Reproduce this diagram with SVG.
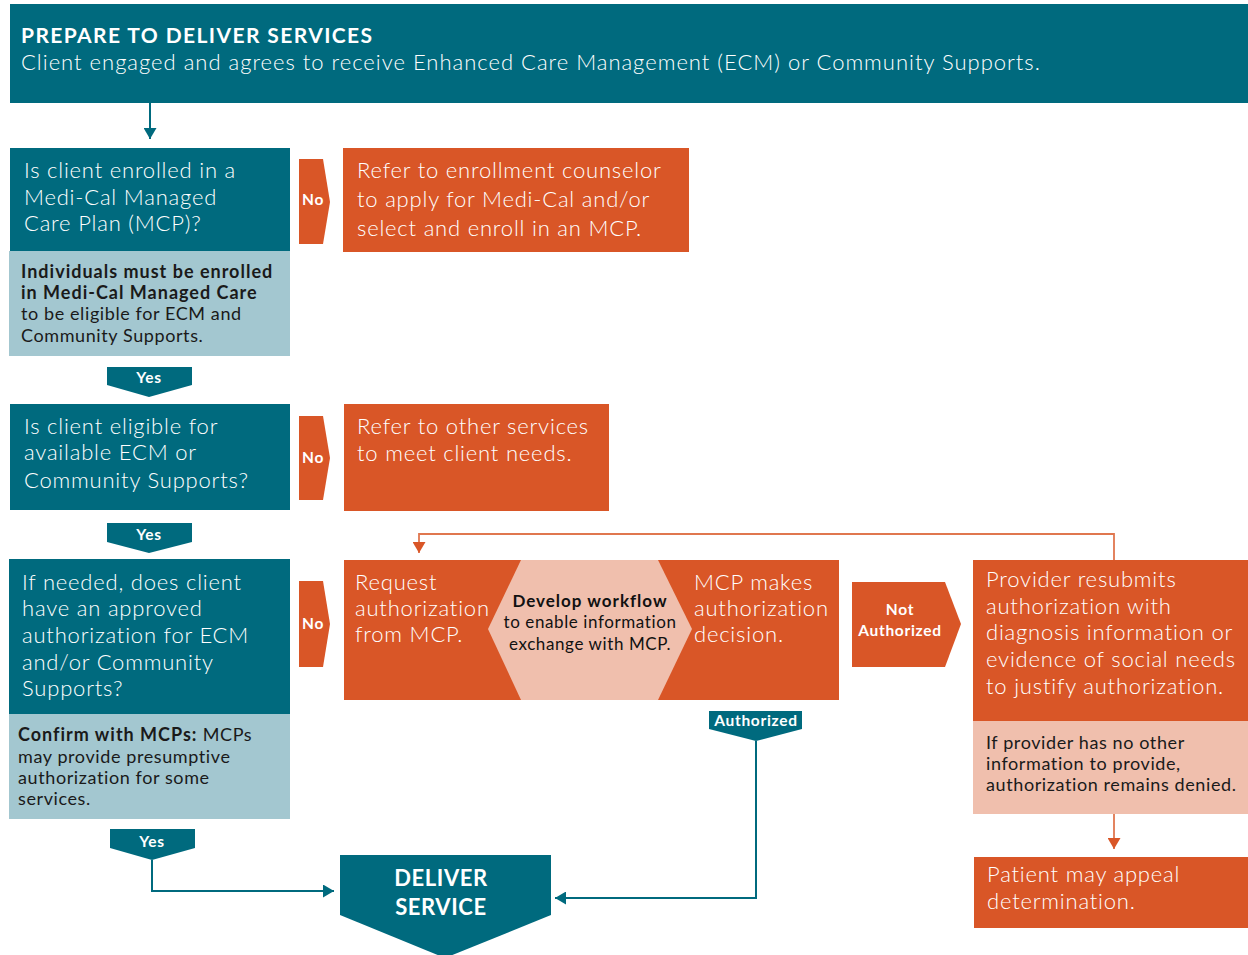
<svg xmlns="http://www.w3.org/2000/svg" width="1248" height="955" viewBox="0 0 1248 955">
  <defs>
    <style>
      .teal { fill: #006a7e; }
      .orange { fill: #d95627; }
      .blue { fill: #a3c7d0; }
      .peach { fill: #f0bfad; }
      text { font-family: Lato, "Liberation Sans", sans-serif; }
      .lt { fill: #ffffff; font-weight: 300; font-size: 22px; letter-spacing: 0.8px; }
      .sub { letter-spacing: 1px; }
      .note { fill: #1a1a1a; font-weight: 400; font-size: 18px; letter-spacing: 0.6px; }
      .b { font-weight: 700; letter-spacing: 1px; }
      .tag { fill: #ffffff; font-weight: 700; font-size: 15.5px; letter-spacing: 0.7px; text-anchor: middle; }
      .tline { fill: none; stroke: #006a7e; stroke-width: 2; }
      .oline { fill: none; stroke: #e0774f; stroke-width: 1.8; }
    </style>
    <marker id="ah-teal" viewBox="0 0 11 13" refX="11" refY="6.5" markerWidth="11" markerHeight="13" orient="auto" markerUnits="userSpaceOnUse">
      <path d="M0,0 L11,6.5 L0,13 z" fill="#006a7e"/>
    </marker>
    <marker id="ah-orange" viewBox="0 0 11 13" refX="11" refY="6.5" markerWidth="11" markerHeight="13" orient="auto" markerUnits="userSpaceOnUse">
      <path d="M0,0 L11,6.5 L0,13 z" fill="#d95627"/>
    </marker>
  </defs>

  <rect width="1248" height="955" fill="#ffffff"/>

  <!-- Header -->
  <g id="header">
    <rect class="teal" x="10" y="4" width="1238" height="99"/>
    <text x="21" y="43" fill="#ffffff" font-size="21" font-weight="700" letter-spacing="1.4">PREPARE TO DELIVER SERVICES</text>
    <text x="21" y="70" class="lt sub">Client engaged and agrees to receive Enhanced Care Management (ECM) or Community Supports.</text>
  </g>

  <!-- Question 1 -->
  <g id="q1">
    <rect class="teal" x="10" y="148" width="280" height="103"/>
    <text class="lt"><tspan x="24" y="178">Is client enrolled in a</tspan><tspan x="24" y="205">Medi-Cal Managed</tspan><tspan x="24" y="231">Care Plan (MCP)?</tspan></text>
    <rect class="blue" x="9" y="251" width="281" height="105"/>
    <text class="note"><tspan x="21" y="278" class="b">Individuals must be enrolled</tspan><tspan x="21" y="299" class="b">in Medi-Cal Managed Care</tspan><tspan x="21" y="320">to be eligible for ECM and</tspan><tspan x="21" y="342">Community Supports.</tspan></text>
  </g>

  <g id="no1">
    <polygon class="orange" points="299,159 323,159 330,202 323,244 299,244"/>
    <text class="tag" x="313" y="205">No</text>
  </g>

  <g id="refer-enroll">
    <rect class="orange" x="343" y="148" width="346" height="104"/>
    <text class="lt"><tspan x="357" y="178">Refer to enrollment counselor</tspan><tspan x="357" y="207">to apply for Medi-Cal and/or</tspan><tspan x="357" y="236">select and enroll in an MCP.</tspan></text>
  </g>

  <g id="yes1">
    <polygon class="teal" points="107,367 192,367 192,385 149,397 107,385"/>
    <text class="tag" x="149" y="383">Yes</text>
  </g>

  <!-- Question 2 -->
  <g id="q2">
    <rect class="teal" x="10" y="404" width="280" height="106"/>
    <text class="lt"><tspan x="24" y="434">Is client eligible for</tspan><tspan x="24" y="460">available ECM or</tspan><tspan x="24" y="488">Community Supports?</tspan></text>
  </g>

  <g id="no2">
    <polygon class="orange" points="299,416 323,416 330,458 323,500 299,500"/>
    <text class="tag" x="313" y="463">No</text>
  </g>

  <g id="refer-other">
    <rect class="orange" x="344" y="404" width="265" height="107"/>
    <text class="lt"><tspan x="357" y="434">Refer to other services</tspan><tspan x="357" y="461">to meet client needs.</tspan></text>
  </g>

  <g id="yes2">
    <polygon class="teal" points="107,523 192,523 192,542 149,553 107,542"/>
    <text class="tag" x="149" y="540">Yes</text>
  </g>

  <!-- Question 3 -->
  <g id="q3">
    <rect class="teal" x="9" y="559" width="281" height="155"/>
    <text class="lt"><tspan x="22" y="590">If needed, does client</tspan><tspan x="22" y="616">have an approved</tspan><tspan x="22" y="643">authorization for ECM</tspan><tspan x="22" y="670">and/or Community</tspan><tspan x="22" y="696">Supports?</tspan></text>
    <rect class="blue" x="9" y="714" width="281" height="105"/>
    <text class="note"><tspan x="18" y="741"><tspan class="b">Confirm with MCPs:</tspan> MCPs</tspan><tspan x="18" y="763">may provide presumptive</tspan><tspan x="18" y="784">authorization for some</tspan><tspan x="18" y="805">services.</tspan></text>
  </g>

  <g id="no3">
    <polygon class="orange" points="299,581 323,581 330,624 323,667 299,667"/>
    <text class="tag" x="313" y="629">No</text>
  </g>

  <g id="yes3">
    <polygon class="teal" points="110,829 195,829 195,848 152,860 110,848"/>
    <text class="tag" x="152" y="847">Yes</text>
  </g>

  <!-- Authorization request band -->
  <g id="authorization">
    <rect class="orange" x="344" y="560" width="495" height="140"/>
    <polygon class="peach" points="521,560 658,560 692,629 658,700 521,700 488,629"/>
    <text class="lt"><tspan x="355" y="590">Request</tspan><tspan x="355" y="616">authorization</tspan><tspan x="355" y="642">from MCP.</tspan></text>
    <text fill="#111111" font-size="17" text-anchor="middle" letter-spacing="0.6"><tspan x="590" y="607" font-weight="700" letter-spacing="1">Develop workflow</tspan><tspan x="590" y="628">to enable information</tspan><tspan x="590" y="650">exchange with MCP.</tspan></text>
    <text class="lt"><tspan x="694" y="590">MCP makes</tspan><tspan x="694" y="616">authorization</tspan><tspan x="694" y="642">decision.</tspan></text>
  </g>

  <g id="not-authorized">
    <polygon class="orange" points="852,582 945,582 961,624 945,667 852,667"/>
    <text class="tag"><tspan x="900" y="615">Not</tspan><tspan x="900" y="636">Authorized</tspan></text>
  </g>

  <g id="authorized">
    <polygon class="teal" points="709,711 802,711 802,729 756,741 709,729"/>
    <text class="tag" x="756" y="726">Authorized</text>
  </g>

  <g id="resubmit">
    <rect class="orange" x="973" y="560" width="275" height="161"/>
    <text class="lt"><tspan x="986" y="587">Provider resubmits</tspan><tspan x="986" y="614">authorization with</tspan><tspan x="986" y="640">diagnosis information or</tspan><tspan x="986" y="667">evidence of social needs</tspan><tspan x="986" y="694">to justify authorization.</tspan></text>
    <rect class="peach" x="973" y="721" width="275" height="93"/>
    <text class="note"><tspan x="986" y="749">If provider has no other</tspan><tspan x="986" y="770">information to provide,</tspan><tspan x="986" y="791">authorization remains denied.</tspan></text>
  </g>

  <g id="appeal">
    <rect class="orange" x="974" y="857" width="274" height="71"/>
    <text class="lt"><tspan x="987" y="882">Patient may appeal</tspan><tspan x="987" y="909">determination.</tspan></text>
  </g>

  <g id="deliver">
    <polygon class="teal" points="340,855 551,855 551,915 445,958 340,915"/>
    <text fill="#ffffff" font-size="22" font-weight="700" text-anchor="middle" letter-spacing="0.6"><tspan x="441" y="886">DELIVER</tspan><tspan x="441" y="915">SERVICE</tspan></text>
  </g>

  <!-- Connectors -->
  <g id="connectors">
    <path class="tline" d="M150,103 V139" marker-end="url(#ah-teal)"/>
    <path class="tline" d="M152,860 V891 H334" marker-end="url(#ah-teal)"/>
    <path class="tline" d="M756,741 V898 H555" marker-end="url(#ah-teal)"/>
    <path class="oline" d="M1114,560 V534 H419 V553" marker-end="url(#ah-orange)"/>
    <path class="oline" d="M1114,814 V849" marker-end="url(#ah-orange)"/>
  </g>
</svg>
